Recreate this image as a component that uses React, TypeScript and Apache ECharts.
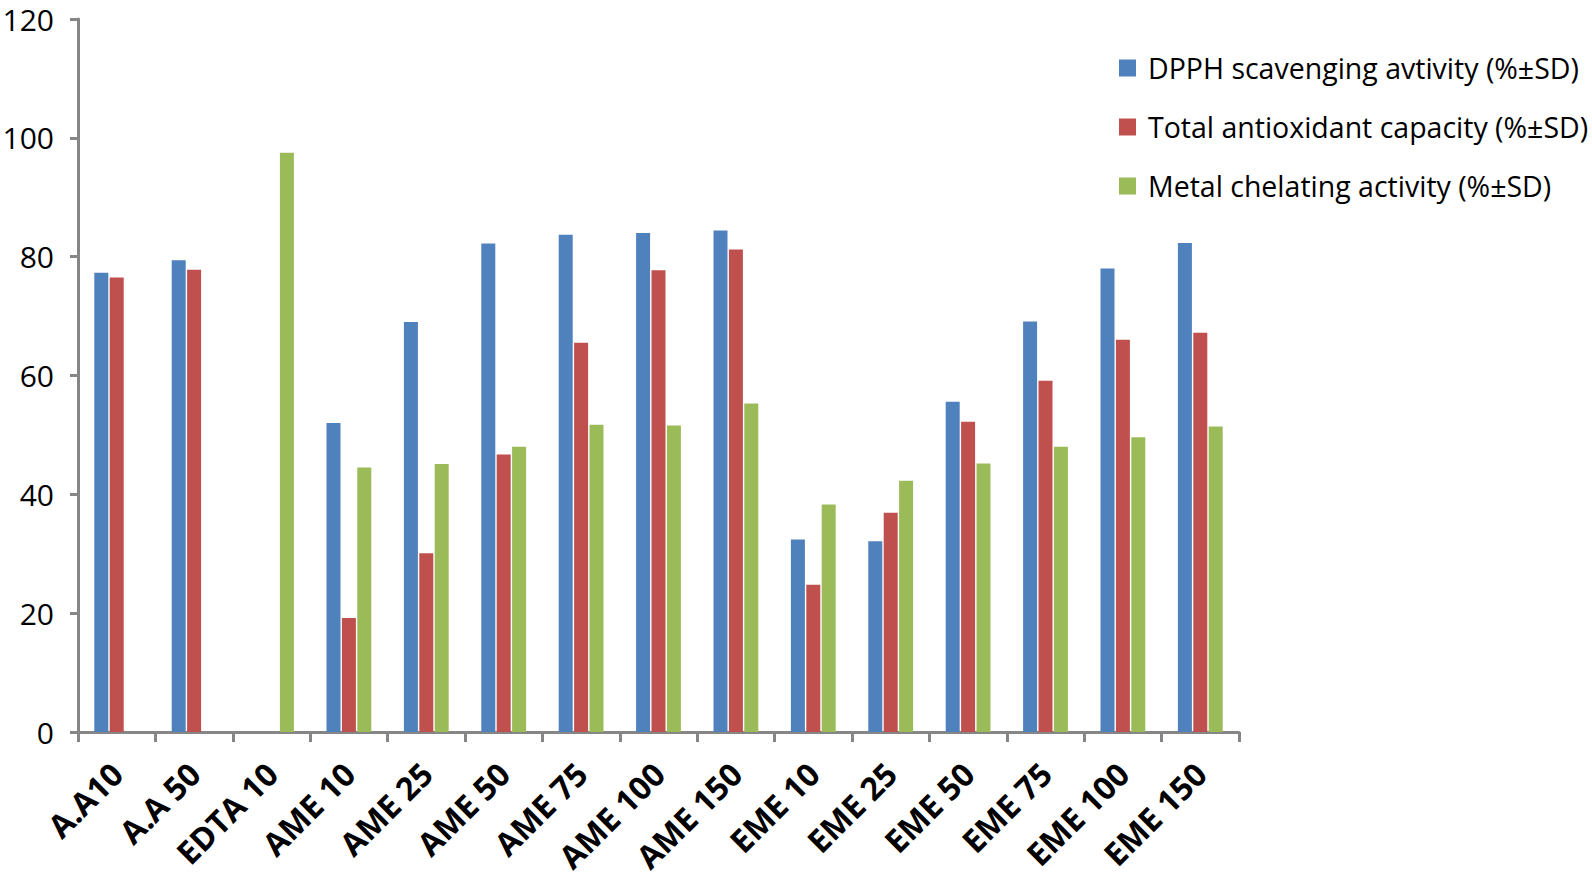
import React, { useEffect, useRef } from "react";
import * as echarts from "echarts";

const categories = [
  "A.A10", "A.A 50", "EDTA 10", "AME 10", "AME 25", "AME 50", "AME 75", "AME 100", "AME 150",
  "EME 10", "EME 25", "EME 50", "EME 75", "EME 100", "EME 150",
];
const dpph = [77.3, 79.4, null, 52.0, 69.0, 82.2, 83.7, 84.0, 84.4, 32.4, 32.1, 55.6, 69.1, 78.0, 82.3];
const tac = [76.5, 77.8, null, 19.2, 30.1, 46.7, 65.5, 77.7, 81.2, 24.8, 36.9, 52.2, 59.1, 66.0, 67.2];
const metal = [null, null, 97.5, 44.5, 45.1, 48.0, 51.7, 51.6, 55.3, 38.3, 42.3, 45.2, 48.0, 49.6, 51.4];
const seriesNames = [
  "DPPH scavenging avtivity (%±SD)",
  "Total antioxidant capacity (%±SD)",
  "Metal chelating activity (%±SD)",
];
const colors = ["#4F81BD", "#C0504D", "#9BBB59"];
const yTicks = { min: 0, max: 120, interval: 20 };

export default function App() {
  const ref = useRef<HTMLDivElement>(null);
  useEffect(() => {
    if (!ref.current) return;
    const chart = echarts.init(ref.current, undefined, { renderer: "svg" });
    const font = "'Open Sans', sans-serif";
    chart.setOption({
      animation: false,
      textStyle: { fontFamily: font },
      color: colors,
      grid: {
        left: 78,
        right: 353,
        top: 19,
        bottom: 144,
        containLabel: false,
        outerBoundsMode: "none",
      },
      legend: {
        orient: "vertical",
        left: 1114,
        top: 48,
        icon: "rect",
        itemWidth: 17,
        itemHeight: 17,
        itemGap: 29,
        textStyle: { fontSize: 28.5, color: "#000", fontFamily: font, lineHeight: 30, padding: [0, 0, 0, 7] },
        data: seriesNames,
      },
      xAxis: {
        type: "category",
        data: categories,
        axisLine: { lineStyle: { color: "#868686", width: 3 } },
        axisTick: { show: true, length: 10, lineStyle: { color: "#868686", width: 3 } },
        axisLabel: {
          interval: 0,
          rotate: 45,
          fontSize: 32,
          fontWeight: "bold",
          color: "#000",
          fontFamily: font,
          margin: 36,
        },
      },
      yAxis: {
        type: "value",
        min: yTicks.min,
        max: yTicks.max,
        interval: yTicks.interval,
        splitLine: { show: false },
        axisLine: { show: true, lineStyle: { color: "#868686", width: 3 } },
        axisTick: { show: true, length: 8, lineStyle: { color: "#868686", width: 3 } },
        axisLabel: { fontSize: 30, color: "#000", fontFamily: font, margin: 24 },
      },
      series: [
        { name: seriesNames[0], type: "bar", data: dpph, barWidth: 14, barGap: "10%" },
        { name: seriesNames[1], type: "bar", data: tac, barWidth: 14, barGap: "10%" },
        { name: seriesNames[2], type: "bar", data: metal, barWidth: 14, barGap: "10%" },
      ],
    });
    return () => chart.dispose();
  }, []);
  return (
    <div
      ref={ref}
      style={{ position: "absolute", left: 0, top: 0, width: 1592, height: 876, background: "#fff" }}
    />
  );
}
